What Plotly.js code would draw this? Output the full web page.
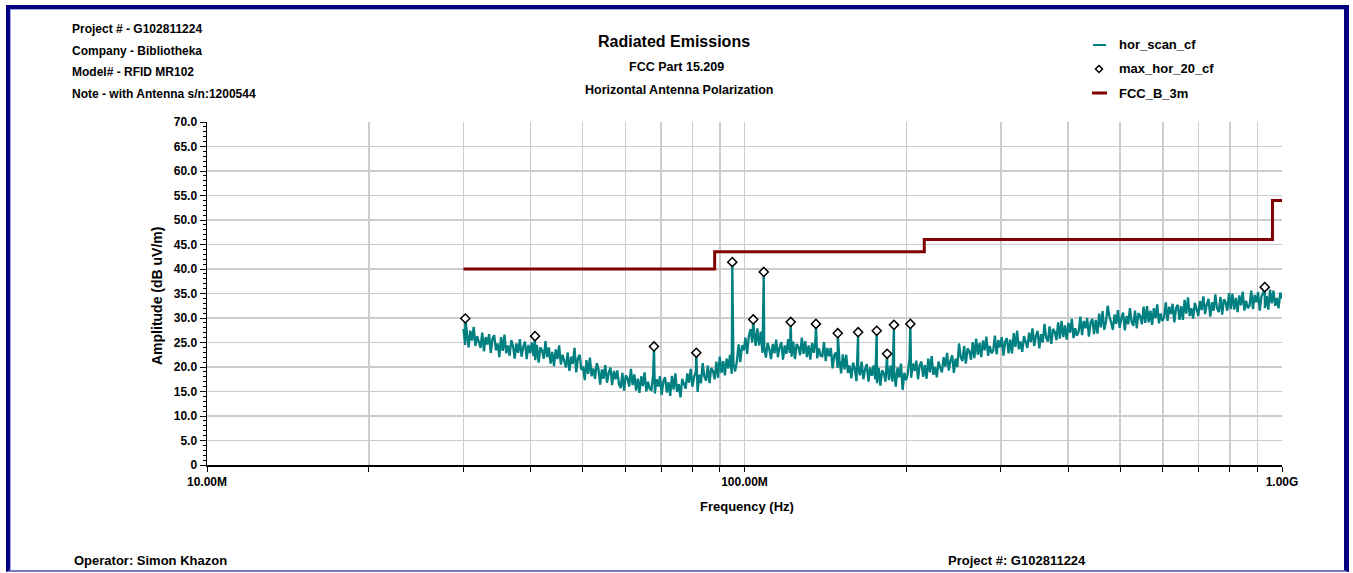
<!DOCTYPE html>
<html>
<head>
<meta charset="utf-8">
<script src="https://cdn.plot.ly/plotly-3.0.1.min.js"></script>
<style>
  html, body { margin: 0; padding: 0; background: #ffffff; }
  #wrap { position: relative; width: 1353px; height: 573px; overflow: hidden; }
  #chart { position: absolute; left: 0; top: 0; width: 1353px; height: 573px; }
  #frame {
    position: absolute; left: 6px; top: 5px; right: 4px; bottom: 1px;
    box-sizing: border-box;
    border-top: 4px solid #000080; border-left: 4px solid #000080;
    border-right: 5px solid #000080; border-bottom: 2px solid #7a7ac4;
    box-shadow: inset 1px 1px 0 #a9a9e6;
    pointer-events: none;
  }
</style>
</head>
<body>
<div id="wrap">
  <div id="chart"></div>
  <div id="frame"></div>
</div>
<script>
// Receiver sweep: logarithmic steps from 30 MHz to 1 GHz
const scanStartMHz = 30;
const scanStopMHz = 1000;

// hor_scan_cf amplitudes (dB uV/m), one per sweep step
const scanAmp = [
  27.8, 24.5, 26.9, 24.0, 27.4, 25.4, 28.2, 24.3, 26.3, 24.8,
  23.9, 27.0, 23.2, 26.1, 24.6, 26.7, 22.9, 25.8, 26.5, 23.4,
  24.8, 22.0, 26.1, 23.3, 26.6, 22.8, 24.4, 22.3, 25.5, 24.3,
  21.7, 24.8, 22.9, 25.7, 22.1, 24.1, 25.2, 21.6, 24.5, 22.8,
  25.0, 22.2, 21.4, 24.5, 20.9, 24.0, 23.4, 21.7, 25.3, 22.0,
  24.0, 20.7, 23.1, 20.2, 23.6, 21.6, 24.4, 20.5, 22.5, 21.0,
  19.9, 23.0, 19.2, 22.1, 20.6, 23.9, 18.9, 21.8, 22.5, 19.4,
  20.1, 17.3, 21.4, 18.6, 21.9, 18.1, 19.7, 17.6, 20.8, 19.6,
  16.4, 19.5, 17.6, 20.4, 16.8, 18.8, 19.9, 16.3, 19.2, 17.5,
  19.3, 16.5, 15.7, 18.8, 15.2, 18.3, 17.7, 16.0, 19.6, 16.3,
  18.5, 15.2, 17.6, 14.7, 18.1, 16.1, 18.9, 15.0, 17.0, 15.5,
  15.3, 18.4, 14.6, 17.5, 16.0, 18.1, 14.3, 17.2, 17.9, 14.8,
  16.9, 14.1, 18.2, 15.4, 18.7, 14.9, 16.5, 13.8, 17.6, 16.4,
  15.6, 18.7, 16.8, 19.6, 16.0, 18.0, 19.1, 14.9, 18.4, 16.7,
  20.8, 18.0, 17.2, 20.3, 16.7, 19.8, 19.2, 17.5, 21.1, 17.8,
  22.1, 18.8, 21.2, 18.3, 21.7, 19.7, 22.5, 18.6, 20.6, 19.1,
  21.2, 24.6, 21.0, 24.4, 23.4, 26.0, 22.7, 26.3, 27.7, 25.0,
  27.6, 24.3, 27.9, 24.4, 27.2, 22.9, 24.2, 21.9, 24.9, 23.6,
  21.6, 24.7, 22.8, 25.6, 22.0, 24.0, 25.1, 21.5, 24.4, 22.7,
  25.7, 22.9, 22.1, 25.2, 21.6, 24.7, 24.1, 22.4, 26.0, 22.7,
  25.3, 22.0, 24.4, 21.5, 24.9, 22.9, 25.7, 21.8, 23.8, 22.3,
  22.2, 25.1, 21.2, 23.9, 22.2, 23.9, 19.7, 22.4, 23.0, 19.8,
  21.5, 18.7, 22.6, 19.5, 22.5, 18.8, 20.3, 17.7, 20.9, 19.6,
  17.1, 20.2, 18.3, 21.1, 17.5, 19.5, 20.6, 17.0, 19.9, 18.2,
  20.3, 17.5, 16.7, 19.8, 16.2, 19.3, 18.7, 17.0, 20.6, 17.3,
  20.3, 17.0, 19.4, 16.0, 19.9, 17.9, 20.7, 15.3, 18.8, 17.3,
  18.5, 21.6, 17.8, 20.7, 19.2, 21.3, 17.5, 20.4, 21.1, 18.0,
  20.4, 17.6, 21.7, 18.9, 22.2, 18.4, 20.0, 17.9, 21.1, 19.9,
  18.9, 22.0, 20.1, 22.9, 19.3, 21.3, 22.4, 18.8, 21.7, 20.0,
  24.8, 22.0, 21.2, 24.3, 20.7, 23.8, 23.2, 21.5, 25.1, 21.8,
  25.8, 22.5, 24.9, 22.0, 25.4, 23.4, 26.2, 22.3, 24.3, 22.8,
  23.3, 26.4, 22.6, 25.5, 24.0, 26.1, 22.3, 25.2, 25.9, 22.8,
  25.6, 22.8, 26.9, 24.1, 27.4, 23.6, 25.2, 23.1, 26.3, 25.1,
  23.9, 27.0, 25.1, 27.9, 24.3, 26.3, 27.4, 23.8, 26.7, 25.0,
  28.8, 26.0, 25.2, 28.3, 24.7, 27.8, 27.2, 25.5, 29.1, 25.8,
  29.4, 26.1, 28.5, 25.6, 29.0, 27.0, 29.8, 25.9, 27.9, 26.4,
  27.2, 30.3, 26.5, 29.4, 27.9, 30.0, 26.2, 29.1, 29.8, 26.7,
  29.6, 26.8, 30.9, 28.1, 31.4, 27.6, 29.2, 32.5, 30.3, 29.1,
  27.6, 30.7, 28.8, 31.6, 28.0, 30.0, 31.1, 27.5, 30.4, 28.7,
  32.0, 29.2, 28.4, 31.5, 27.9, 31.0, 30.4, 28.7, 32.3, 29.0,
  32.4, 29.1, 31.5, 28.6, 32.0, 30.0, 32.8, 28.9, 30.9, 29.4,
  30.1, 33.2, 29.4, 32.3, 30.8, 32.9, 29.1, 32.0, 32.7, 29.6,
  32.4, 29.6, 33.7, 30.9, 34.2, 30.4, 32.0, 29.9, 33.1, 31.9,
  30.4, 33.5, 31.6, 34.4, 30.8, 32.8, 33.9, 30.3, 33.2, 31.5,
  34.8, 32.0, 31.2, 34.3, 30.7, 33.8, 33.2, 31.5, 35.1, 31.8,
  35.0, 31.7, 34.1, 31.2, 34.6, 32.6, 35.4, 31.5, 33.5, 32.0,
  32.5, 35.6, 31.8, 34.7, 33.2, 35.3, 31.5, 34.4, 35.1, 32.0,
  34.5, 31.7, 35.8, 33.0, 35.6, 32.5, 34.1, 32.0, 35.2, 34.0
];

// max_hor_20_cf: peak list (MHz, dB uV/m)
const peakFreqMHz = [30.24, 40.76, 67.86, 81.35, 94.9, 103.8, 108.6, 121.9,
                     135.8, 149.1, 162.7, 176.2, 184.2, 189.7, 203.5, 928.7];
const peakAmp     = [29.9, 26.3, 24.2, 22.9, 41.4, 29.7, 39.4, 29.2,
                     28.8, 26.9, 27.1, 27.4, 22.7, 28.6, 28.8, 36.3];

// FCC Class B limit at 3 m (step line)
const limitFreqMHz = [30, 88, 216, 960, 1000];
const limitAmp     = [40, 43.5, 46, 54, 54];

// Axis ticks
const yTickVals = [0, 5, 10, 15, 20, 25, 30, 35, 40, 45, 50, 55, 60, 65, 70];
const yTickText = ['0', '5.0', '10.0', '15.0', '20.0', '25.0', '30.0', '35.0',
                   '40.0', '45.0', '50.0', '55.0', '60.0', '65.0', '70.0'];
const xTickMHz  = [10, 20, 30, 40, 50, 60, 70, 80, 90, 100,
                   200, 300, 400, 500, 600, 700, 800, 900, 1000];
const xTickText = ['10.00M', '', '', '', '', '', '', '', '', '100.00M',
                   '', '', '', '', '', '', '', '', '1.00G'];

// Header / footer text
const headerLines = ['Project # - G102811224', 'Company - Bibliotheka',
                     'Model# - RFID MR102', 'Note - with Antenna s/n:1200544'];
const titleLines  = ['Radiated Emissions', 'FCC Part 15.209', 'Horizontal Antenna Polarization'];
const legendNames = ['hor_scan_cf', 'max_hor_20_cf', 'FCC_B_3m'];
const footerLeft  = 'Operator: Simon Khazon';
const footerRight = 'Project #: G102811224';

const TEAL = '#008080', LIMIT = '#800000';
const FONT = 'Liberation Sans, Arial, sans-serif';

// sweep frequencies
const n = scanAmp.length;
const scanFreqMHz = scanAmp.map((_, i) =>
  scanStartMHz * Math.pow(scanStopMHz / scanStartMHz, i / (n - 1)));

// peaks are part of the sweep record: merge them in frequency order
const merged = scanFreqMHz.map((f, i) => [f, scanAmp[i]])
  .concat(peakFreqMHz.map((f, i) => [f, peakAmp[i]]))
  .sort((a, b) => a[0] - b[0]);

const MHz = 1e6;

// plot-area geometry in pixels (margins)
const W = 1353, H = 573;
const PL = 207, PR = 1282, PT = 122, PB = 465;
const px = x => (x - PL) / (PR - PL);
const py = y => (PB - y) / (PB - PT);

const traces = [
  {
    x: merged.map(p => p[0] * MHz), y: merged.map(p => p[1]),
    type: 'scatter', mode: 'lines', name: legendNames[0],
    line: { color: TEAL, width: 2.3 }, hoverinfo: 'skip'
  },
  {
    x: limitFreqMHz.map(f => f * MHz), y: limitAmp,
    type: 'scatter', mode: 'lines', name: legendNames[2],
    line: { color: LIMIT, width: 3, shape: 'hv' }
  },
  {
    x: peakFreqMHz.map(f => f * MHz), y: peakAmp,
    type: 'scatter', mode: 'markers', name: legendNames[1],
    marker: { symbol: 'diamond', size: 7, color: '#ffffff', line: { color: '#000000', width: 1.5 } }
  }
];

const bold = (size) => ({ family: FONT, size: size, color: '#000000', weight: 'bold' });

const annotations = [];
headerLines.forEach((t, i) => annotations.push({
  text: t, xref: 'paper', yref: 'paper', x: px(70), y: py([29, 51, 72, 94][i]),
  xanchor: 'left', yanchor: 'middle', showarrow: false, font: bold(12)
}));
[[674, 42, 16], [676, 67, 12.5], [679, 90, 12.5]].forEach((p, i) => annotations.push({
  text: titleLines[i], xref: 'paper', yref: 'paper', x: px(p[0]), y: py(p[1]),
  xanchor: 'center', yanchor: 'middle', showarrow: false, font: bold(p[2])
}));
[45, 69, 93].forEach((y, i) => annotations.push({
  text: legendNames[i], xref: 'paper', yref: 'paper', x: px(1117), y: py(y),
  xanchor: 'left', yanchor: 'middle', showarrow: false, font: bold(13)
}));
annotations.push({
  text: 'Frequency (Hz)', xref: 'paper', yref: 'paper', x: px(747), y: py(507),
  xanchor: 'center', yanchor: 'middle', showarrow: false, font: bold(13)
});
annotations.push({
  text: 'Amplitude (dB uV/m)', xref: 'paper', yref: 'paper', x: px(157), y: py(296),
  xanchor: 'center', yanchor: 'middle', showarrow: false, textangle: -90, font: bold(14)
});
annotations.push({
  text: footerLeft, xref: 'paper', yref: 'paper', x: px(72), y: py(560),
  xanchor: 'left', yanchor: 'middle', showarrow: false, font: bold(13)
});
annotations.push({
  text: footerRight, xref: 'paper', yref: 'paper', x: px(946), y: py(560),
  xanchor: 'left', yanchor: 'middle', showarrow: false, font: bold(13)
});

// legend keys
const d = 3.5;
const shapes = [
  { type: 'line', xref: 'paper', yref: 'paper', x0: px(1093), x1: px(1106), y0: py(45), y1: py(45),
    line: { color: TEAL, width: 2 } },
  { type: 'path', xref: 'paper', yref: 'paper',
    path: `M ${px(1099)} ${py(69 - d)} L ${px(1099 + d)} ${py(69)} L ${px(1099)} ${py(69 + d)} L ${px(1099 - d)} ${py(69)} Z`,
    fillcolor: '#ffffff', line: { color: '#000000', width: 1.5 } },
  { type: 'line', xref: 'paper', yref: 'paper', x0: px(1092), x1: px(1107), y0: py(93), y1: py(93),
    line: { color: LIMIT, width: 3 } }
];

const layout = {
  width: W, height: H,
  margin: { l: PL, r: W - PR, t: PT, b: H - PB, pad: 0 },
  paper_bgcolor: '#ffffff', plot_bgcolor: '#ffffff',
  showlegend: false,
  font: { family: FONT },
  xaxis: {
    type: 'log', range: [7, 9],
    tickmode: 'array', tickvals: xTickMHz.map(f => f * MHz), ticktext: xTickText,
    ticks: 'outside', ticklen: 5, tickwidth: 1, tickcolor: '#000000',
    showline: true, linecolor: '#000000', linewidth: 2,
    showgrid: true, gridcolor: '#cccccc', gridwidth: 1.5,
    zeroline: false, tickfont: bold(12), tickangle: 0, automargin: false
  },
  yaxis: {
    range: [0, 70], tickmode: 'array', tickvals: yTickVals, ticktext: yTickText,
    ticks: 'outside', ticklen: 6, tickwidth: 1, tickcolor: '#000000',
    minor: { dtick: 1, ticks: 'outside', ticklen: 3, tickcolor: '#000000', tickwidth: 1, showgrid: false },
    showline: true, linecolor: '#000000', linewidth: 1.5,
    showgrid: true, gridcolor: '#cccccc', gridwidth: 1.5,
    zeroline: false, tickfont: bold(12), automargin: false
  },
  annotations: annotations,
  shapes: shapes
};

Plotly.newPlot('chart', traces, layout, { displayModeBar: false, staticPlot: true });
</script>
</body>
</html>
